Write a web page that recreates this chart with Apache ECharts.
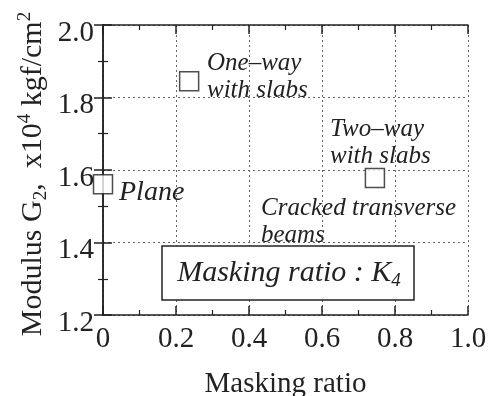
<!DOCTYPE html>
<html><head><meta charset="utf-8">
<script src="https://cdn.jsdelivr.net/npm/echarts@6/dist/echarts.min.js"></script>
<style>html,body{margin:0;padding:0;background:#fff}#c{width:497px;height:396px}</style>
</head><body><div id="c"></div>
<script>
const names = ['Plane', 'One-way with slabs', 'Two-way with slabs'];
const maskingRatio = [0.0, 0.236, 0.745];
const modulusG2 = [1.561, 1.845, 1.578];
const xTicks = [0, 0.2, 0.4, 0.6, 0.8, 1.0];
const yTicks = [1.2, 1.4, 1.6, 1.8, 2.0];

const FONT = 'Liberation Serif';
const INK = '#222';
const chart = echarts.init(document.getElementById('c'), null, {renderer: 'canvas'});

const axisCommon = {
  type: 'value',
  axisLine: {show: true, lineStyle: {color: INK, width: 1.5}},
  axisTick: {show: true, inside: true, length: 9, lineStyle: {color: INK, width: 1.5}},
  minorTick: {show: true, splitNumber: 2, length: 5, lineStyle: {color: INK, width: 1.2}},
};
const xLab = v => (v === 0 ? '0' : v.toFixed(1));
const yLab = v => '{a|' + v.toFixed(1) + '}';

chart.setOption({
  animation: false,
  grid: {left: 103, right: 29, top: 25, bottom: 81, containLabel: false, outerBoundsMode: 'none'},
  xAxis: [
    Object.assign({}, axisCommon, {
      min: xTicks[0], max: xTicks[xTicks.length - 1], interval: 0.2, position: 'bottom',
      axisLabel: {formatter: xLab, fontFamily: FONT, fontSize: 29, color: INK, margin: 10},
      splitLine: {show: true, lineStyle: {type: [2, 3], color: '#666', width: 1}},
      name: 'Masking ratio', nameLocation: 'middle', nameGap: 55,
      nameTextStyle: {fontFamily: FONT, fontSize: 29, color: INK}
    }),
    Object.assign({}, axisCommon, {
      min: xTicks[0], max: xTicks[xTicks.length - 1], interval: 0.2, position: 'top',
      axisLabel: {show: false}, splitLine: {show: false}
    })
  ],
  yAxis: [
    Object.assign({}, axisCommon, {
      min: yTicks[0], max: yTicks[yTicks.length - 1], interval: 0.2, position: 'left',
      axisLabel: {formatter: yLab, margin: 9,
        rich: {a: {fontFamily: FONT, fontSize: 29, color: INK, padding: [16, 0, 0, 0]}}},
      splitLine: {show: true, lineStyle: {type: [2, 3], color: '#666', width: 1}}
    }),
    Object.assign({}, axisCommon, {
      min: yTicks[0], max: yTicks[yTicks.length - 1], interval: 0.2, position: 'right',
      axisLabel: {show: false}, splitLine: {show: false}
    })
  ],
  graphic: [
    {type: 'text', x: 33, y: 174, rotation: Math.PI / 2, style: {
      text: '{n|Modulus G}{s|2}{n|,  x10}{p|4}{n| kgf/cm}{p|2}',
      align: 'center', verticalAlign: 'middle',
      rich: {
        n: {fontFamily: FONT, fontSize: 30, fill: INK},
        s: {fontFamily: FONT, fontSize: 19, fill: INK, padding: [16, 0, 0, 0]},
        p: {fontFamily: FONT, fontSize: 19, fill: INK, padding: [0, 0, 16, 0]}
      }, fill: INK}},
    {type: 'text', x: 207, y: 50, style: {text: 'One\u2013way\nwith slabs', fontFamily: FONT, fontStyle: 'italic', fontSize: 25, lineHeight: 27, fill: INK}},
    {type: 'text', x: 330, y: 116, style: {text: 'Two\u2013way\nwith slabs', fontFamily: FONT, fontStyle: 'italic', fontSize: 25, lineHeight: 27, fill: INK}},
    {type: 'text', x: 119, y: 179, style: {text: 'Plane', fontFamily: FONT, fontStyle: 'italic', fontSize: 28, fill: INK}},
    {type: 'text', x: 261, y: 195, style: {text: 'Cracked transverse\nbeams', fontFamily: FONT, fontStyle: 'italic', fontSize: 25, lineHeight: 27, fill: INK}},
    {type: 'rect', shape: {x: 162, y: 246, width: 252, height: 54}, style: {fill: '#fff', stroke: INK, lineWidth: 1.5}, z: 10},
    {type: 'text', x: 289, y: 273, z: 11, style: {
      text: '{n|Masking ratio : K}{s|4}', align: 'center', verticalAlign: 'middle',
      rich: {
        n: {fontFamily: FONT, fontStyle: 'italic', fontSize: 30, fill: INK},
        s: {fontFamily: FONT, fontStyle: 'italic', fontSize: 19, fill: INK, padding: [16, 0, 0, 0]}
      }}}
  ],
  series: [{
    type: 'scatter', clip: false, symbol: 'rect', symbolSize: 19,
    itemStyle: {color: '#fff', borderColor: INK, borderWidth: 1.5},
    data: maskingRatio.map((x, i) => ({name: names[i], value: [x, modulusG2[i]]})),
    z: 5
  }]
});
</script></body></html>
